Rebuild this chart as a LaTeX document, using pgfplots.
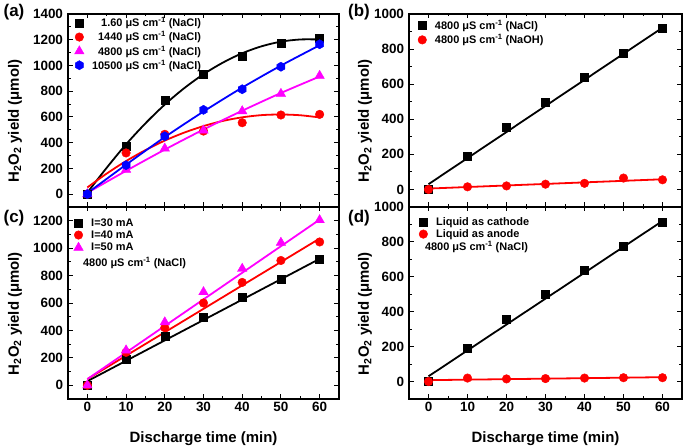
\documentclass[border=0pt]{standalone}
\usepackage{fontspec}
\setmainfont{Liberation Sans}
\usepackage{pgfplots}
\pgfplotsset{compat=1.18}
\definecolor{cred}{RGB}{255,0,0}
\definecolor{cmag}{RGB}{255,0,255}
\definecolor{cblue}{RGB}{0,0,255}
\pgfdeclareplotmark{hexagon*}{%
  \pgfpathmoveto{\pgfqpointpolar{90}{\pgfplotmarksize}}%
  \pgfpathlineto{\pgfqpointpolar{150}{\pgfplotmarksize}}%
  \pgfpathlineto{\pgfqpointpolar{210}{\pgfplotmarksize}}%
  \pgfpathlineto{\pgfqpointpolar{270}{\pgfplotmarksize}}%
  \pgfpathlineto{\pgfqpointpolar{330}{\pgfplotmarksize}}%
  \pgfpathlineto{\pgfqpointpolar{30}{\pgfplotmarksize}}%
  \pgfpathclose
  \pgfusepathqfillstroke}
\pgfplotsset{
  panel/.style={
    scale only axis,
    xmin=-5, xmax=65, ymin=-100,
    xtick={0,10,...,60},
    minor x tick num=1, minor y tick num=1,
    tick align=inside,
    major tick length=4.5bp, minor tick length=2.5bp,
    axis line style={line width=1.1bp},
    every tick/.style={line width=0.9bp, black},
    tick label style={font=\bfseries\fontsize{13.5}{14}\selectfont},
    yticklabel style={xshift=-1.5bp},
    /pgf/number format/assume math mode=true,
    /pgf/number format/1000 sep={},
    scaled y ticks=false,
    label style={font=\bfseries\fontsize{15}{16}\selectfont},
    ylabel={H\textsubscript{2}O\textsubscript{2} yield (μmol)},
    legend style={draw=none, fill=none, font=\bfseries\fontsize{11}{12}\selectfont,
      inner sep=0pt, anchor=north west, nodes={inner xsep=4bp, inner ysep=0pt}},
    legend cell align=left,
    legend image code/.code={\path (0bp,0bp) (17bp,0bp);
      \draw[mark repeat=2,mark phase=2,##1] plot coordinates {(0bp,0bp) (8.5bp,0bp) (17bp,0bp)};},
  },
  sq/.style={only marks, mark=square*, mark size=4bp, black, mark options={fill=black}},
  ci/.style={only marks, mark=*, mark size=4.3bp, cred, mark options={fill=cred}},
  tr/.style={only marks, mark=triangle*, mark size=5.5bp, cmag, mark options={fill=cmag}},
  hx/.style={only marks, mark=hexagon*, mark size=4.6bp, cblue, mark options={fill=cblue}},
  fit/.style={no marks, line width=1.8bp},
  left panel/.style={width=271bp,
    ylabel style={at={(axis description cs:-0.1956,0.445)}, anchor=center}},
  right panel/.style={width=273bp,
    ylabel style={at={(axis description cs:-0.161,0.445)}, anchor=center}},
}
\begin{document}
\begin{tikzpicture}
\useasboundingbox (0,0) rectangle (685bp,447bp);
% (a)
\begin{axis}[panel, left panel, at={(68bp,240bp)}, anchor=south west, height=193bp,
  ymax=1400, ytick={0,200,...,1400}, xticklabel=\empty,
  legend cell align=right,
  legend style={at={(axis description cs:0.009,0.982)}, row sep=3.3pt}]
\addplot[fit, black, smooth, forget plot] coordinates {(0,12) (5,205) (10,387) (15,550) (20,696) (25,823) (30,932) (35,1022) (40,1095) (45,1149) (50,1185) (55,1202) (60,1202)};
\addplot[fit, cred, smooth, forget plot] coordinates {(0,52) (5,160) (10,257) (15,342) (20,416) (25,478) (30,529) (35,569) (40,597) (45,614) (50,619) (55,613) (60,596)};
\addplot[fit, cmag, smooth, forget plot] coordinates {(0,10) (10,181) (20,346) (30,502) (40,648) (50,786) (60,914)};
\addplot[fit, cblue, smooth, forget plot] coordinates {(0,8) (10,229) (20,443) (30,642) (40,828) (50,999) (60,1157)};
\addplot[sq] coordinates {(0,0) (10,375) (20,730) (30,935) (40,1070) (50,1175) (60,1215)};
\addplot[ci] coordinates {(0,0) (10,320) (20,465) (30,490) (40,555) (50,615) (60,620)};
\addplot[tr] coordinates {(0,0) (10,190) (20,355) (30,495) (40,645) (50,780) (60,920)};
\addplot[hx] coordinates {(0,0) (10,225) (20,450) (30,655) (40,815) (50,990) (60,1165)};
\legend{1.60 μS cm\textsuperscript{-1} (NaCl), 1440 μS cm\textsuperscript{-1} (NaCl), 4800 μS cm\textsuperscript{-1} (NaCl), 10500 μS cm\textsuperscript{-1} (NaCl)}
\end{axis}
% (b)
\begin{axis}[panel, right panel, at={(409bp,240bp)}, anchor=south west, height=193bp,
  ymax=1000, ytick={0,200,...,1000}, xticklabel=\empty,
  legend style={at={(axis description cs:0.016,0.97)}, row sep=3.8pt}]
\addplot[fit, black, forget plot] coordinates {(0,30) (60,922)};
\addplot[fit, cred, forget plot] coordinates {(0,5) (60,58)};
\addplot[sq] coordinates {(0,0) (10,190) (20,355) (30,500) (40,640) (50,775) (60,920)};
\addplot[ci] coordinates {(0,0) (10,15) (20,20) (30,30) (40,35) (50,65) (60,55)};
\legend{4800 μS cm\textsuperscript{-1} (NaCl), 4800 μS cm\textsuperscript{-1} (NaOH)}
\end{axis}
% (c)
\begin{axis}[panel, left panel, at={(68bp,48bp)}, anchor=south west, height=192bp,
  ymax=1300, ytick={0,200,...,1200}, xticklabels={0,10,20,30,40,50,60},
  xlabel={Discharge time (min)},
  xlabel style={at={(axis description cs:0.5,-0.205)}, anchor=center},
  legend style={at={(axis description cs:0.006,0.94)}, row sep=2.6pt}]
\addplot[fit, black, forget plot] coordinates {(0,30) (60,922)};
\addplot[fit, cred, forget plot] coordinates {(0,45) (60,1070)};
\addplot[fit, cmag, forget plot] coordinates {(0,45) (60,1208)};
\addplot[sq] coordinates {(0,0) (10,190) (20,355) (30,500) (40,640) (50,775) (60,920)};
\addplot[ci] coordinates {(0,0) (10,240) (20,420) (30,600) (40,750) (50,910) (60,1045)};
\addplot[tr] coordinates {(0,0) (10,255) (20,460) (30,680) (40,850) (50,1040) (60,1205)};
\legend{I=30 mA, I=40 mA, I=50 mA}
\node[anchor=west, inner sep=0pt, font=\bfseries\fontsize{11}{12}\selectfont] at (axis description cs:0.055,0.708) {4800 μS cm\textsuperscript{-1} (NaCl)};
\end{axis}
% (d)
\begin{axis}[panel, right panel, at={(409bp,48bp)}, anchor=south west, height=192bp,
  ymax=1000, ytick={0,200,...,1000}, xticklabels={0,10,20,30,40,50,60},
  xlabel={Discharge time (min)},
  xlabel style={at={(axis description cs:0.5,-0.205)}, anchor=center},
  legend style={at={(axis description cs:0.02,0.945)}, row sep=2.2pt}]
\addplot[fit, black, forget plot] coordinates {(0,30) (60,920)};
\addplot[fit, cred, forget plot] coordinates {(0,8) (60,25)};
\addplot[sq] coordinates {(0,0) (10,190) (20,355) (30,500) (40,640) (50,775) (60,915)};
\addplot[ci] coordinates {(0,0) (10,20) (20,15) (30,17) (40,20) (50,22) (60,22)};
\legend{Liquid as cathode, Liquid as anode}
\node[anchor=west, inner sep=0pt, font=\bfseries\fontsize{11}{12}\selectfont] at (axis description cs:0.058,0.793) {4800 μS cm\textsuperscript{-1} (NaCl)};
\end{axis}
% panel labels
\node[font=\bfseries\fontsize{17}{17}\selectfont] at (14bp,434.5bp) {(a)};
\node[font=\bfseries\fontsize{17}{17}\selectfont] at (359bp,434.5bp) {(b)};
\node[font=\bfseries\fontsize{17}{17}\selectfont] at (14bp,229bp) {(c)};
\node[font=\bfseries\fontsize{17}{17}\selectfont] at (359bp,229bp) {(d)};
\end{tikzpicture}
\end{document}
